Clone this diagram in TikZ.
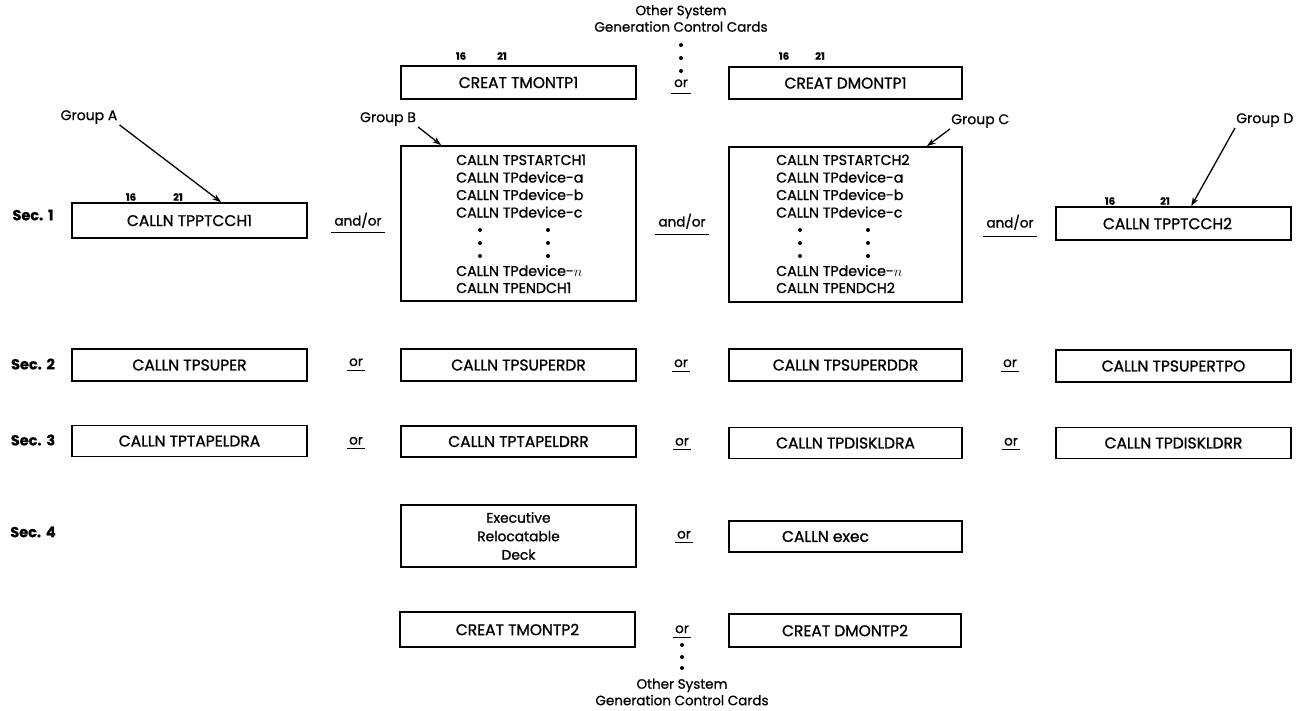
\documentclass[tikz,border=0pt]{standalone}
\usepackage{fontspec}
\setmainfont{Poppins}[FakeBold=1.2]
\newfontfamily\widefont{Poppins}[FakeBold=0.8]
\usetikzlibrary{arrows.meta}
\newcommand\cardfnt{\fontsize{15.5}{17}\selectfont}
\newcommand\listfnt{\fontsize{14.2}{17}\selectfont}
\newcommand\grpfnt{\widefont\fontsize{14}{16}\selectfont}
\newcommand\colfnt{\widefont\fontsize{10}{11}\selectfont\bfseries}
\newcommand\secfnt{\widefont\fontsize{14.5}{16}\selectfont\bfseries}
\newcommand\conjfnt{\fontsize{13.5}{15}\selectfont}
\newcommand\othfnt{\widefont\fontsize{13.5}{16.5}\selectfont}
\tikzset{
  card/.style={draw, line width=1.6pt, inner sep=0pt, font=\cardfnt},
  ln/.style={font=\listfnt, inner sep=0pt, anchor=base west},
  grp/.style={font=\grpfnt, inner sep=1pt},
  colnum/.style={font=\colfnt, inner sep=0pt},
  seclab/.style={font=\secfnt, inner sep=0pt},
  conj/.style={font=\conjfnt, inner sep=0pt, anchor=base},
  oth/.style={font=\othfnt, inner sep=0pt, align=center},
  uline/.style={line width=1pt},
  ptr/.style={line width=1.3pt, -{Stealth[length=9pt,width=6pt]}},
}
\newcommand\vdot[1]{\fill (#1) circle (2pt);}
\begin{document}
\begin{tikzpicture}[x=1pt,y=-1pt]
\useasboundingbox (0,0) rectangle (1297,710);

% ---- top ----
\node[oth] (othtop) at (681,18.5) {Other System\\Generation Control Cards};
\vdot{681,45}\vdot{681,58}\vdot{681,71}
\node[conj] (ortop) at (681,87) {or};
\draw[uline] ([xshift=-3pt,yshift=-6pt]ortop.base west) -- ([xshift=3pt,yshift=-6pt]ortop.base east);

\node[card, minimum width=235pt, minimum height=33pt] (tm1) at (518.5,82.5) {CREAT TMONTP1};
\node[card, minimum width=233pt, minimum height=32pt] (dm1) at (845.5,83) {CREAT DMONTP1};
\node[colnum] (tm1a) at (461,56) {16};
\node[colnum] (tm1b) at (502,56) {21};
\node[colnum] (dm1a) at (784,56) {16};
\node[colnum] (dm1b) at (820,56) {21};

% ---- Sec. 1 ----
\node[seclab] (s1) at (33,215) {Sec.\,\,1};
\node[card, minimum width=235pt, minimum height=35pt] (pt1) at (189.5,220.5) {CALLN TPPTCCH1};
\node[colnum] (pt1a) at (131,197) {16};
\node[colnum] (pt1b) at (178,197) {21};
\node[grp] (ga) at (89,117) {Group A};
\draw[ptr] ([xshift=1pt]ga.south east) -- ([xshift=150pt]pt1.north west);

\node[conj] (ao1) at (358,225.5) {and/or};
\draw[uline] ([xshift=-3pt,yshift=-7pt]ao1.base west) -- ([xshift=3pt,yshift=-7pt]ao1.base east);

\node[card, minimum width=235pt, minimum height=155pt] (gb) at (518.5,223.5) {};
\node[grp] (gbl) at (388,119) {Group B};
\draw[ptr] ([xshift=1pt]gbl.south east) -- ([xshift=41pt]gb.north west);
\node[ln] (b1) at (456,165) {CALLN TPSTARTCH1};
\node[ln] (b2) at (456,182.5) {CALLN TPdevice-a};
\node[ln] (b3) at (456,200) {CALLN TPdevice-b};
\node[ln] (b4) at (456,217.5) {CALLN TPdevice-c};
\vdot{480,230}\vdot{480,243}\vdot{480,256}
\vdot{548,230}\vdot{548,243}\vdot{548,256}
\node[ln] (b5) at (456,276) {CALLN TPdevice-$n$};
\node[ln] (b6) at (456,293) {CALLN TPENDCH1};

\node[conj] (ao2) at (682,226.5) {and/or};
\draw[uline] ([xshift=-3pt,yshift=-8pt]ao2.base west) -- ([xshift=3pt,yshift=-8pt]ao2.base east);

\node[card, minimum width=233pt, minimum height=155pt] (gc) at (845.5,224.5) {};
\node[grp, anchor=west] (gcl) at (950,121) {Group C};
\draw[ptr] (gcl.south west) -- ([xshift=-36pt]gc.north east);
\node[ln] (c1) at (776,165) {CALLN TPSTARTCH2};
\node[ln] (c2) at (776,182.5) {CALLN TPdevice-a};
\node[ln] (c3) at (776,200) {CALLN TPdevice-b};
\node[ln] (c4) at (776,217.5) {CALLN TPdevice-c};
\vdot{800,230}\vdot{800,243}\vdot{800,256}
\vdot{868,230}\vdot{868,243}\vdot{868,256}
\node[ln] (c5) at (776,276) {CALLN TPdevice-$n$};
\node[ln] (c6) at (776,293) {CALLN TPENDCH2};

\node[conj] (ao3) at (1010,227.5) {and/or};
\draw[uline] ([xshift=-3pt,yshift=-9pt]ao3.base west) -- ([xshift=3pt,yshift=-9pt]ao3.base east);

\node[card, minimum width=235pt, minimum height=33pt] (pt2) at (1173.5,223.5) {CALLN TPPTCCH2\hspace*{12pt}};
\node[colnum] (pt2a) at (1110,201) {16};
\node[colnum] (pt2b) at (1165,201) {21};
\node[grp, anchor=west] (gdl) at (1235,120) {Group D};
\draw[ptr] (gdl.south west) -- ([xshift=136pt]pt2.north west);

% ---- Sec. 2 ----
\node[seclab] (s2) at (33,364) {Sec.\,\,2};
\node[card, minimum width=235pt, minimum height=32pt] (s2a) at (189.5,365) {CALLN TPSUPER};
\node[card, minimum width=235pt, minimum height=32pt] (s2b) at (518.5,365) {CALLN TPSUPERDR};
\node[card, minimum width=233pt, minimum height=32pt] (s2c) at (845.5,365) {CALLN TPSUPERDDR};
\node[card, minimum width=235pt, minimum height=32pt] (s2d) at (1173.5,366) {CALLN TPSUPERTPO};
\node[conj] (o21) at (356,366) {or};
\node[conj] (o22) at (681,367) {or};
\node[conj] (o23) at (1010,367) {or};
\foreach \n in {o21,o22,o23}
  \draw[uline] ([xshift=-2pt,yshift=-4pt]\n.base west) -- ([xshift=2pt,yshift=-4pt]\n.base east);

% ---- Sec. 3 ----
\node[seclab] (s3) at (33,440) {Sec.\,\,3};
\node[card, minimum width=235pt, minimum height=31pt] (s3a) at (189.5,441) {CALLN TPTAPELDRA};
\node[card, minimum width=235pt, minimum height=31pt] (s3b) at (518.5,441.5) {CALLN TPTAPELDRR};
\node[card, minimum width=233pt, minimum height=31pt] (s3c) at (845.5,443) {CALLN TPDISKLDRA};
\node[card, minimum width=235pt, minimum height=31pt] (s3d) at (1173.5,443) {CALLN TPDISKLDRR};
\node[conj] (o31) at (356,444.5) {or};
\node[conj] (o32) at (682,445.5) {or};
\node[conj] (o33) at (1011,445.5) {or};
\foreach \n in {o31,o32,o33}
  \draw[uline] ([xshift=-2pt,yshift=-4pt]\n.base west) -- ([xshift=2pt,yshift=-4pt]\n.base east);

% ---- Sec. 4 ----
\node[seclab] (s4) at (33,532) {Sec.\,\,4};
\node[card, minimum width=235pt, minimum height=62pt, align=center,
      font=\fontsize{13.8}{18.5}\selectfont] (exe) at (518.5,536) {Executive\\Relocatable\\Deck};
\node[card, minimum width=233pt, minimum height=31pt] (exc) at (845.5,536.5) {CALLN exec\hspace*{40pt}};
\node[conj] (o41) at (684,538.5) {or};
\draw[uline] ([xshift=-2pt,yshift=-4pt]o41.base west) -- ([xshift=2pt,yshift=-4pt]o41.base east);

% ---- bottom ----
\node[card, minimum width=235pt, minimum height=35pt] (tm2) at (517.5,629.5) {CREAT TMONTP2};
\node[card, minimum width=232pt, minimum height=33pt] (dm2) at (845,630.5) {CREAT DMONTP2};
\node[conj] (obot) at (682,633) {or};
\draw[uline] ([xshift=-2pt,yshift=-4pt]obot.base west) -- ([xshift=2pt,yshift=-4pt]obot.base east);
\vdot{682,645}\vdot{682,657}\vdot{682,668}
\node[oth] (othbot) at (682,692) {Other System\\Generation Control Cards};
\end{tikzpicture}
\end{document}
